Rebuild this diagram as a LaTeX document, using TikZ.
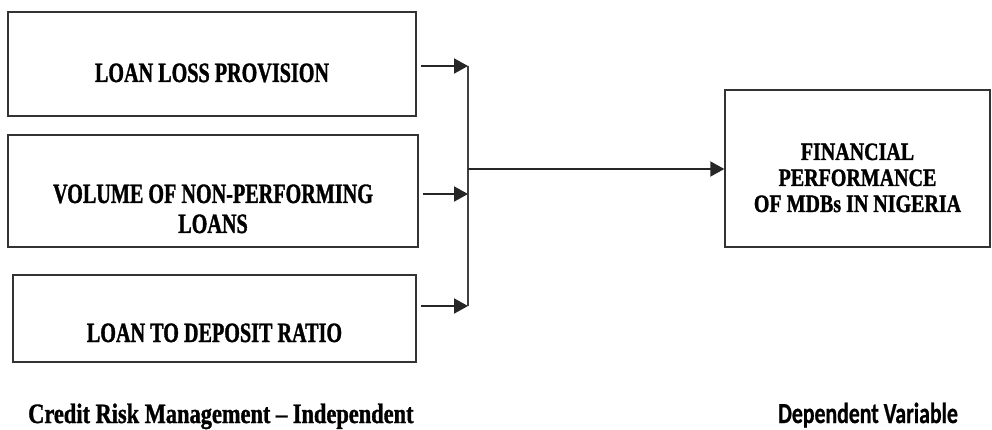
\documentclass[tikz,border=0pt]{standalone}
\usepackage{fontspec}
\usetikzlibrary{arrows.meta,positioning,calc}
\newfontfamily\boxfont{Liberation Serif}[FakeStretch=0.72,FakeBold=1.2]
\newfontfamily\wideserif{Liberation Serif}[FakeStretch=0.8,FakeBold=1.2]
\newfontfamily\capsans{Carlito}[FakeStretch=0.75,FakeBold=0.8]

\begin{document}
\begin{tikzpicture}[x=1pt,y=-1pt,
    varbox/.style={draw=black!80, line width=1.4pt, inner sep=0pt, align=center, text depth=0pt,
      font=\boxfont\bfseries\fontsize{28}{30}\selectfont},
    feed/.style={draw=black!85, line width=2pt, -{Triangle[length=14pt,width=15pt]}},
    joint/.style={draw=black!75, line width=1.4pt}]
  \useasboundingbox (0,0) rectangle (992,430);

  % independent variables
  \node[varbox, minimum width=408pt, minimum height=104pt, text height=36pt] (lbp) at (212,64) {LOAN LOSS PROVISION};
  \node[varbox, minimum width=410pt, minimum height=112pt, text height=84pt] (npl) at (213,191) {VOLUME OF NON-PERFORMING\\LOANS};
  \node[varbox, minimum width=403pt, minimum height=87pt, text height=47pt] (ldr) at (214.5,318.5) {LOAN TO DEPOSIT RATIO};

  % dependent variable
  \node[varbox, minimum width=265pt, minimum height=157pt, text height=87pt,
    font=\wideserif\bfseries\fontsize{25}{26}\selectfont] (fp) at (857.5,168.5) {FINANCIAL\\PERFORMANCE\\OF MDBs IN NIGERIA};

  \coordinate (tip1) at (468,66);
  \coordinate (tip2) at (468,194);
  \coordinate (tip3) at (468,306);
  \coordinate (jout) at (468,169);

  \draw[feed, shorten <=4pt] (lbp.east |- tip1) -- (tip1);
  \draw[feed, shorten <=4pt] (npl.east |- tip2) -- (tip2);
  \draw[feed, shorten <=4pt] (ldr.east |- tip3) -- (tip3);
  \draw[joint] (tip1) -- (tip3);
  \draw[feed] (jout) -- (fp.west |- jout);

  \node[anchor=base west, inner sep=0pt, font=\wideserif\bfseries\fontsize{28}{30}\selectfont] (indep) at (28,423) {Credit Risk Management – Independent};
  \node[anchor=base west, inner sep=0pt, font=\capsans\bfseries\fontsize{29}{30}\selectfont] (dep) at (778,423) {Dependent Variable};
\end{tikzpicture}
\end{document}
